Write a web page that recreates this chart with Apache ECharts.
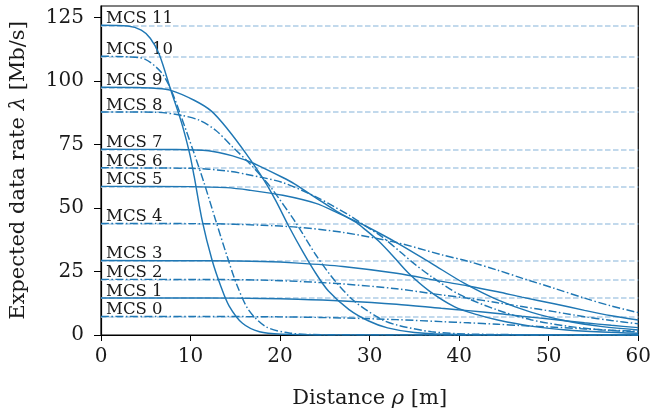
<!DOCTYPE html>
<html>
<head>
<meta charset="utf-8">
<script src="https://cdn.jsdelivr.net/npm/echarts@6/dist/echarts.min.js"></script>
<style>
  html, body { margin: 0; padding: 0; background: #fff; }
  #chart { width: 654px; height: 415px; }
</style>
</head>
<body>
<div id="chart"></div>
<script>
// peak rate of each MCS [Mb/s]
const rates = [7.3, 14.6, 21.9, 29.3, 43.9, 58.5, 65.8, 73.1, 87.8, 97.5, 109.7, 121.9];
const mcsLabels = ['MCS 0', 'MCS 1', 'MCS 2', 'MCS 3', 'MCS 4', 'MCS 5',
  'MCS 6', 'MCS 7', 'MCS 8', 'MCS 9', 'MCS 10', 'MCS 11'];

// expected rate vs distance, [rho, lambda]
const mcs0 = [[0, 7.3], [12, 7.29], [18, 7.2], [22, 7.05], [27, 6.7], [33, 6.06], [38, 5.26], [41, 4.8],
  [44.3, 4.23], [47, 3.7], [50.6, 3.07], [54, 2.4], [57, 1.9], [60, 1.46]];
const mcs1 = [[0, 14.6], [12, 14.57], [18, 14.4], [22, 14.1], [27, 13.4], [33, 12.1], [38, 10.5], [41, 9.6],
  [44.3, 8.5], [47, 7.4], [50.6, 6.1], [54, 4.8], [57, 3.8], [60, 2.9]];
const mcs2 = [[0, 21.9], [12, 21.85], [18, 21.6], [22, 21.1], [27, 20.1], [33, 18.2], [38, 15.8], [41, 14.5],
  [44.3, 12.7], [47, 11.2], [50.6, 9.2], [54, 7.2], [57, 5.7], [60, 4.4]];
const mcs3 = [[0, 29.3], [12, 29.2], [18, 28.9], [22, 28.3], [27, 27], [33, 24.3], [38, 21.1], [41, 19.3],
  [44.3, 17], [47, 14.9], [50.6, 12.3], [54, 9.7], [57, 7.6], [60, 5.9]];
const mcs4 = [[0, 43.9], [12, 43.8], [18, 43.2], [22, 42.4], [27, 40.4], [33, 36.4], [38, 31.6], [41, 29],
  [44.3, 25.5], [47, 22.4], [50.6, 18.4], [54, 14.5], [57, 11.4], [60, 8.8]];
const mcs5 = [[0, 58.5], [10, 58.4], [14, 58], [16.6, 57], [20.3, 55], [24, 51.8], [26.6, 47.8], [28, 45.5],
  [29.5, 43], [33.2, 36], [36.9, 28.2], [40.6, 20.3], [44.3, 13.8], [48, 9], [52, 5.5], [56, 3.3], [60, 2]];
const mcs6 = [[0, 65.8], [10, 65.6], [14, 64.6], [16.6, 63], [20.3, 60], [24, 54.4], [25.8, 51], [27.7, 47.2],
  [29.5, 43], [31.4, 38.6], [33.5, 32.5], [35, 28], [36.9, 23], [40, 16], [44.3, 9.8], [48, 6], [52, 3.5],
  [56, 2], [60, 1.2]];
const mcs7 = [[0, 73.1], [8, 73], [12, 72.5], [14.7, 70.5], [16.6, 68.2], [17.7, 66.5], [20.3, 62], [21.6, 59.5],
  [24, 54], [26.2, 49], [28.4, 44.5], [29.5, 41.5], [31, 37], [32.5, 31.5], [34.3, 24.5], [36.6, 17.5],
  [39.5, 11.1], [42, 8], [44.3, 5.9], [48, 3.5], [52, 2], [56, 1.2], [60, 0.7]];
const mcs8 = [[0, 87.8], [6, 87.7], [8.8, 86.6], [11, 84.5], [12.8, 80.6], [14.7, 74], [16.6, 67.5], [18.4, 60.5],
  [19.1, 57.5], [21.7, 44.5], [24, 31.5], [26.2, 21], [28.4, 13], [31.4, 6], [33.2, 3.8], [36.9, 1.3],
  [42, 0.3], [60, 0]];
const mcs9 = [[0, 97.5], [4, 97.4], [6, 97.1], [7.8, 96.3], [10.4, 92.4], [12.3, 88.2], [14.1, 81.2], [16.2, 71.4],
  [18.2, 61], [19.5, 53], [21, 42.6], [22.5, 33], [24, 24.2], [25.4, 17.3], [27.7, 10], [29.9, 5.5],
  [32, 2.8], [35, 1], [40, 0.2], [60, 0]];
const mcs10 = [[0, 109.7], [3, 109.5], [4.9, 108.6], [6.7, 103.5], [7.8, 96.7], [9.1, 84.5], [10.3, 72.5],
  [11.5, 60], [12.8, 45.2], [14.1, 30.8], [15.2, 19.5], [16.5, 9.8], [18.4, 3.3], [21, 0.8], [25, 0.1], [60, 0]];
const mcs11 = [[0, 121.9], [3, 121.6], [4.5, 120], [5.5, 116.8], [6.5, 110.5], [7.8, 96.3], [9, 83.5],
  [9.9, 71.4], [10.4, 62.5], [11.3, 45], [12.4, 29.5], [13.4, 19], [14.3, 11.5], [15.8, 4.6], [17.7, 1.3],
  [20.4, 0.3], [25, 0], [60, 0]];

const curves = [mcs0, mcs1, mcs2, mcs3, mcs4, mcs5, mcs6, mcs7, mcs8, mcs9, mcs10, mcs11];
const yTicks = [0, 25, 50, 75, 100, 125];

const blue = '#1f77b4';
const refBlue = '#aecde6';
const serif = 'DejaVu Serif';
const ink = '#1a1a1a';
const dashDot = [8, 2.5, 1.5, 2.5];

const chart = echarts.init(document.getElementById('chart'));

const series = curves.map((pts, i) => ({
  name: mcsLabels[i],
  type: 'line',
  data: pts,
  showSymbol: false,
  symbol: 'none',
  smooth: 0.3,
  z: 3,
  lineStyle: {
    color: blue,
    width: 1.45,
    type: i % 2 === 0 ? dashDot : 'solid',
  },
  markLine: {
    z: 1,
    silent: true,
    symbol: 'none',
    animation: false,
    data: [{yAxis: rates[i]}],
    lineStyle: {color: refBlue, type: [5.5, 2.5], width: 1.6},
    label: {
      position: 'insideStartTop',
      formatter: mcsLabels[i],
      distance: [5, -2],
      fontFamily: serif,
      fontSize: 16.5,
      color: ink,
    },
  },
}));

const nameStyle = {
  fontFamily: serif,
  fontSize: 21,
  color: ink,
  rich: {i: {fontFamily: serif, fontSize: 21, fontStyle: 'italic', color: ink}},
};

chart.setOption({
  animation: false,
  grid: {
    left: 101,
    right: 13,
    top: 6,
    bottom: 80,
    show: true,
    borderColor: '#000',
    borderWidth: 1.2,
    backgroundColor: 'transparent',
  },
  xAxis: {
    type: 'value',
    min: 0,
    max: 60,
    interval: 10,
    name: 'Distance {i|ρ} [m]',
    nameLocation: 'middle',
    nameGap: 53,
    nameTextStyle: nameStyle,
    axisLine: {lineStyle: {color: '#000', width: 1.2}},
    axisTick: {inside: false, length: 6, lineStyle: {color: '#000'}},
    axisLabel: {fontFamily: serif, fontSize: 20, color: ink, margin: 12},
    splitLine: {show: false},
  },
  yAxis: {
    type: 'value',
    min: 0,
    max: 129.5,
    name: 'Expected data rate {i|λ} [Mb/s]',
    nameLocation: 'middle',
    nameGap: 72,
    nameTextStyle: nameStyle,
    axisLine: {show: true, lineStyle: {color: '#000', width: 1.2}},
    axisTick: {show: true, inside: false, length: 7, customValues: yTicks, lineStyle: {color: '#000'}},
    axisLabel: {fontFamily: serif, fontSize: 20, color: ink, margin: 17, customValues: yTicks},
    splitLine: {show: false},
  },
  series: series,
});
</script>
</body>
</html>
